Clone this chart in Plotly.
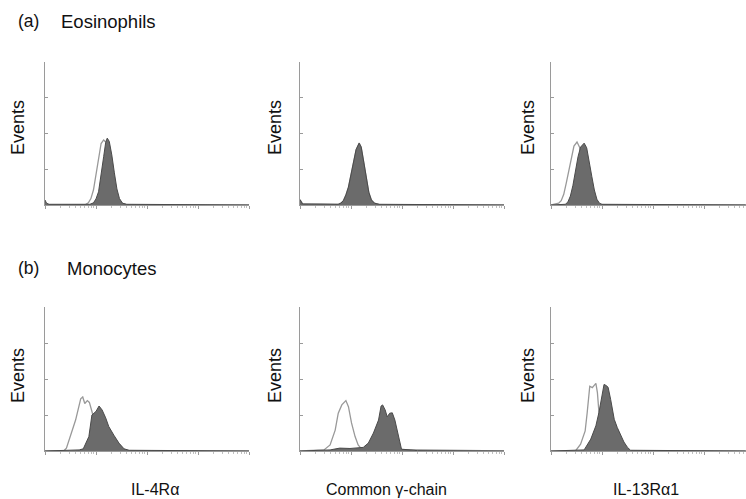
import plotly.graph_objects as go
import math

# ---------------- data (x in log-decades of fluorescence, y in relative events) ----------------
# (a) Eosinophils, IL-4Ra
eo_il4_open_x = [0.00, 0.80, 0.85, 0.90, 0.95, 1.00, 1.05, 1.10, 1.15, 1.20, 1.25, 1.30, 1.35, 1.40, 1.45, 1.52, 1.60, 4.00]
eo_il4_open_y = [0.00, 0.02, 0.06, 0.18, 0.42, 0.85, 1.35, 1.72, 1.82, 1.75, 1.50, 1.05, 0.60, 0.30, 0.12, 0.04, 0.01, 0.00]
eo_il4_fill_x = [0.00, 0.03, 0.08, 0.88, 0.95, 1.00, 1.05, 1.10, 1.15, 1.19, 1.22, 1.26, 1.31, 1.36, 1.41, 1.46, 1.52, 1.60, 4.00]
eo_il4_fill_y = [0.14, 0.05, 0.02, 0.02, 0.06, 0.17, 0.37, 0.80, 1.35, 1.75, 1.87, 1.78, 1.40, 0.90, 0.45, 0.18, 0.05, 0.02, 0.00]

# (a) Eosinophils, common gamma-chain
eo_gc_open_x = [0.00, 0.05, 0.75, 0.80, 0.85, 0.90, 0.95, 1.00, 1.05, 1.10, 1.16, 1.20, 1.25, 1.30, 1.35, 1.40, 1.46, 1.55, 4.00]
eo_gc_open_y = [0.15, 0.03, 0.02, 0.05, 0.12, 0.28, 0.50, 0.82, 1.20, 1.55, 1.73, 1.62, 1.20, 0.72, 0.35, 0.14, 0.05, 0.02, 0.00]
eo_gc_fill_x = eo_gc_open_x
eo_gc_fill_y = eo_gc_open_y

# (a) Eosinophils, IL-13Ra1
eo_il13_open_x = [0.00, 0.10, 0.15, 0.20, 0.25, 0.30, 0.35, 0.40, 0.45, 0.51, 0.56, 0.61, 0.66, 0.71, 0.76, 0.82, 0.90, 3.82]
eo_il13_open_y = [0.00, 0.02, 0.05, 0.12, 0.30, 0.62, 1.00, 1.38, 1.65, 1.76, 1.62, 1.25, 0.80, 0.42, 0.18, 0.06, 0.02, 0.00]
eo_il13_fill_x = [0.00, 0.28, 0.33, 0.38, 0.43, 0.48, 0.53, 0.58, 0.65, 0.70, 0.75, 0.80, 0.85, 0.90, 0.95, 1.00, 3.82]
eo_il13_fill_y = [0.00, 0.02, 0.08, 0.25, 0.55, 0.95, 1.35, 1.62, 1.73, 1.60, 1.25, 0.80, 0.42, 0.16, 0.05, 0.02, 0.00]

# (b) Monocytes, IL-4Ra
mo_il4_open_x = [0.00, 0.38, 0.42, 0.50, 0.60, 0.70, 0.74, 0.78, 0.83, 0.87, 0.93, 0.96, 1.00, 1.06, 1.12, 4.00]
mo_il4_open_y = [0.00, 0.02, 0.08, 0.40, 0.86, 1.45, 1.50, 1.32, 1.40, 1.35, 1.05, 0.58, 0.22, 0.05, 0.01, 0.00]
mo_il4_fill_x = [0.00, 0.67, 0.75, 0.86, 0.92, 1.00, 1.06, 1.12, 1.19, 1.25, 1.35, 1.45, 1.55, 1.65, 4.00]
mo_il4_fill_y = [0.00, 0.03, 0.06, 0.40, 1.00, 1.10, 1.25, 1.14, 0.92, 0.68, 0.44, 0.22, 0.06, 0.02, 0.00]

# (b) Monocytes, common gamma-chain
mo_gc_open_x = [0.00, 0.47, 0.59, 0.69, 0.75, 0.82, 0.90, 0.95, 1.01, 1.08, 1.14, 1.21, 4.00]
mo_gc_open_y = [0.00, 0.03, 0.17, 0.58, 1.05, 1.28, 1.40, 1.23, 0.78, 0.40, 0.17, 0.05, 0.00]
mo_gc_fill_x = [0.00, 0.59, 0.78, 0.98, 1.24, 1.34, 1.44, 1.54, 1.59, 1.62, 1.67, 1.71, 1.76, 1.81, 1.86, 1.93, 1.99, 2.16, 2.30, 4.00]
mo_gc_fill_y = [0.00, 0.03, 0.08, 0.07, 0.10, 0.22, 0.50, 0.86, 1.25, 1.28, 1.14, 0.95, 1.05, 1.06, 0.86, 0.40, 0.05, 0.03, 0.01, 0.00]

# (b) Monocytes, IL-13Ra1
mo_il13_open_x = [0.00, 0.48, 0.58, 0.67, 0.71, 0.76, 0.81, 0.88, 0.91, 0.94, 0.97, 1.02, 1.07, 3.82]
mo_il13_open_y = [0.00, 0.00, 0.19, 0.56, 1.07, 1.80, 1.76, 1.88, 1.62, 1.07, 0.52, 0.15, 0.00, 0.00]
mo_il13_fill_x = [0.00, 0.65, 0.78, 0.88, 0.94, 1.01, 1.04, 1.08, 1.12, 1.17, 1.24, 1.30, 1.37, 1.43, 1.50, 1.56, 3.82]
mo_il13_fill_y = [0.00, 0.03, 0.33, 0.70, 1.07, 1.62, 1.85, 1.82, 1.77, 1.43, 0.88, 0.65, 0.42, 0.25, 0.10, 0.02, 0.00]

panels = [
    (eo_il4_open_x, eo_il4_open_y, eo_il4_fill_x, eo_il4_fill_y),
    (eo_gc_open_x, eo_gc_open_y, eo_gc_fill_x, eo_gc_fill_y),
    (eo_il13_open_x, eo_il13_open_y, eo_il13_fill_x, eo_il13_fill_y),
    (mo_il4_open_x, mo_il4_open_y, mo_il4_fill_x, mo_il4_fill_y),
    (mo_gc_open_x, mo_gc_open_y, mo_gc_fill_x, mo_gc_fill_y),
    (mo_il13_open_x, mo_il13_open_y, mo_il13_fill_x, mo_il13_fill_y),
]

row_titles = [("(a)", "Eosinophils"), ("(b)", "Monocytes")]
y_label = "Events"
x_labels = ["IL-4Rα", "Common γ-chain", "IL-13Rα1"]

# ---------------- layout geometry (pixels) ----------------
W, H = 746, 499
col_px = [(45, 249), (300, 504), (551, 746)]
row_px = [(62, 205), (307, 451)]
px_per_decade = 51.0

def px(x):
    return x / W

def py(y):
    return 1 - y / H

fig = go.Figure()
layout = dict(
    width=W, height=H, margin=dict(l=0, r=0, t=0, b=0),
    paper_bgcolor="white", plot_bgcolor="white", showlegend=False,
    font=dict(family="Liberation Sans, Arial, Helvetica, sans-serif", color="#111"),
)

minor_vals = [d + math.log10(k) for d in range(4) for k in range(2, 10)]
axis_col = "#9a9a9a"

idx = 0
for r in range(2):
    for c in range(3):
        i = idx + 1
        xa = "x" if i == 1 else f"x{i}"
        ya = "y" if i == 1 else f"y{i}"
        ox, oy, fx, fy = panels[idx]
        fig.add_trace(go.Scatter(x=ox, y=oy, mode="lines", xaxis=xa, yaxis=ya,
                                 line=dict(color="#999999", width=1.3), hoverinfo="skip"))
        fig.add_trace(go.Scatter(x=fx, y=fy, mode="lines", xaxis=xa, yaxis=ya, fill="tozeroy",
                                 fillcolor="#6b6b6b", line=dict(color="#4a4a4a", width=1),
                                 hoverinfo="skip"))
        x0, x1 = col_px[c]
        y0, y1 = row_px[r]
        xmax = (x1 - x0) / px_per_decade
        key_x = "xaxis" if i == 1 else f"xaxis{i}"
        key_y = "yaxis" if i == 1 else f"yaxis{i}"
        layout[key_x] = dict(domain=[px(x0), px(x1)], range=[0, xmax], anchor=ya,
                             showline=True, linecolor=axis_col, linewidth=1.2,
                             showgrid=False, zeroline=False, showticklabels=False,
                             tickvals=[0, 1, 2, 3, 4], ticks="outside", ticklen=3,
                             tickcolor=axis_col, tickwidth=1,
                             minor=dict(tickvals=minor_vals, ticks="outside", ticklen=2,
                                        tickcolor="#c0c0c0", tickwidth=1),
                             fixedrange=True)
        layout[key_y] = dict(domain=[py(y1), py(y0)], range=[0, 4], anchor=xa,
                             showline=True, linecolor=axis_col, linewidth=1.2,
                             showgrid=False, zeroline=False, showticklabels=False,
                             tickvals=[1, 2, 3, 4], ticks="inside", ticklen=3,
                             tickcolor=axis_col, tickwidth=1, fixedrange=True)
        idx += 1

ann = []
# row titles
title_y = [21, 268]
title_name_x = [59, 65]
for r in range(2):
    ann.append(dict(text=row_titles[r][0], x=px(16), y=py(title_y[r]), xref="paper", yref="paper",
                    xanchor="left", yanchor="middle", showarrow=False, font=dict(size=17.5)))
    ann.append(dict(text=row_titles[r][1], x=px(title_name_x[r]), y=py(title_y[r]), xref="paper",
                    yref="paper", xanchor="left", yanchor="middle", showarrow=False,
                    font=dict(size=18.5)))
# y labels
ev_x = [18, 275, 528]
ev_y = [128, 376]
for r in range(2):
    for c in range(3):
        ann.append(dict(text=y_label, x=px(ev_x[c]), y=py(ev_y[r]), xref="paper", yref="paper",
                        xanchor="center", yanchor="middle", textangle=-90, showarrow=False,
                        font=dict(size=18)))
# x labels
xl_x = [155, 386, 646]
for c in range(3):
    ann.append(dict(text=x_labels[c], x=px(xl_x[c]), y=py(489), xref="paper", yref="paper",
                    xanchor="center", yanchor="middle", showarrow=False,
                    font=dict(size=16)))
layout["annotations"] = ann

fig.update_layout(**layout)
fig.write_html("out.html", config={"displayModeBar": False},
               post_script="document.body.style.margin='0';document.body.style.overflow='hidden';")
